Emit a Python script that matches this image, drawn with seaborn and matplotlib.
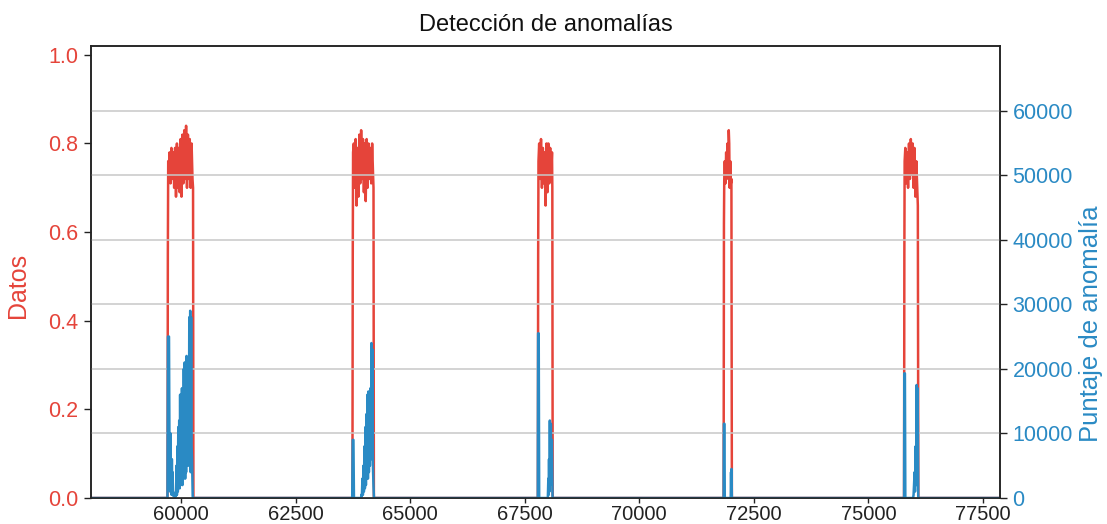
import matplotlib
matplotlib.use("Agg")
import matplotlib.pyplot as plt
import seaborn as sns
import pandas as pd

# ---------------- data ----------------
x_range = [58035, 77870]

# "Datos" series (red): bursts, zero elsewhere
datos_x = [58035,
    59705, 59712, 59720, 59730, 59750, 59770, 59790, 59810, 59830, 59850, 59870, 59890,
    59910, 59930, 59950, 59970, 59990, 60010, 60030, 60050, 60070, 60090, 60110, 60130,
    60150, 60170, 60190, 60210, 60230, 60250, 60262, 60270,
    63740, 63747, 63754, 63770, 63790, 63810, 63830, 63850, 63870, 63890, 63910, 63930,
    63950, 63970, 63990, 64010, 64030, 64050, 64070, 64090, 64110, 64130, 64150, 64170,
    64190, 64200, 64208,
    67786, 67793, 67800, 67815, 67835, 67855, 67875, 67895, 67915, 67935, 67955, 67975,
    67995, 68015, 68035, 68055, 68075, 68095, 68102, 68110,
    71840, 71847, 71854, 71865, 71880, 71895, 71910, 71925, 71940, 71952, 71962, 71972,
    71985, 71998, 72010, 72020,
    75777, 75784, 75790, 75805, 75825, 75845, 75865, 75885, 75905, 75925, 75945, 75965,
    75985, 76005, 76025, 76045, 76065, 76078, 76089,
    77870]
datos_y = [0.0,
    0.0, 0.55, 0.76, 0.74, 0.78, 0.71, 0.79, 0.72, 0.78, 0.70, 0.79, 0.68,
    0.80, 0.70, 0.79, 0.69, 0.81, 0.68, 0.82, 0.71, 0.83, 0.72, 0.84, 0.70,
    0.82, 0.72, 0.81, 0.70, 0.80, 0.72, 0.70, 0.0,
    0.0, 0.55, 0.78, 0.80, 0.70, 0.81, 0.66, 0.79, 0.68, 0.82, 0.71, 0.83,
    0.72, 0.81, 0.69, 0.80, 0.67, 0.81, 0.70, 0.80, 0.72, 0.79, 0.71, 0.80,
    0.73, 0.70, 0.0,
    0.0, 0.55, 0.76, 0.80, 0.72, 0.81, 0.70, 0.79, 0.71, 0.78, 0.66, 0.80,
    0.69, 0.80, 0.71, 0.79, 0.72, 0.78, 0.70, 0.0,
    0.0, 0.62, 0.72, 0.76, 0.71, 0.78, 0.73, 0.80, 0.72, 0.83, 0.80, 0.70,
    0.76, 0.71, 0.72, 0.0,
    0.0, 0.55, 0.76, 0.79, 0.71, 0.78, 0.70, 0.80, 0.72, 0.81, 0.73, 0.80,
    0.70, 0.79, 0.68, 0.76, 0.70, 0.66, 0.0,
    0.0]

# "Puntaje de anomalía" series (blue)
score_x = [58035,
    59704, 59715, 59737, 59748,
    59755, 59762, 59770, 59778, 59785, 59792, 59800, 59808, 59815, 59825, 59835, 59850,
    59865, 59880,
    59890, 59900, 59910, 59920, 59930, 59940, 59950, 59960, 59970, 59980, 59990, 60000,
    60010, 60020, 60030, 60040, 60050, 60060, 60070, 60080, 60090, 60100, 60110, 60120,
    60130, 60140, 60150, 60160, 60170, 60180, 60190, 60200, 60210, 60220, 60230, 60240,
    60255,
    63735, 63746, 63762, 63773, 63930,
    63936, 63946, 63958, 63968, 63980, 63990, 64002, 64012, 64024, 64034, 64046, 64056,
    64068, 64078, 64089, 64099, 64111, 64121, 64133, 64143, 64155, 64165, 64177, 64187,
    64199, 64210,
    67785, 67792, 67805, 67815, 68004, 68015, 68022, 68030, 68038, 68048, 68058, 68070,
    68080, 68092, 68107,
    71840, 71846, 71858, 71865, 71995, 72002, 72008, 72012, 72020,
    75778, 75783, 75796, 75805, 75975, 75985, 75995, 76007, 76017, 76029, 76039, 76051,
    76061, 76073, 76087,
    77870]
score_y = [0,
    0, 25000, 25000, 7000,
    9000, 1000, 10000, 2000, 6000, 500, 6000, 1000, 4000, 500, 300, 800,
    200, 600,
    300, 5000, 500, 8000, 1000, 11000, 2000, 12000, 1500, 16000, 2000, 15000,
    3000, 17000, 2000, 16000, 3000, 20000, 4000, 21000, 3000, 20000, 4000, 22000,
    5000, 21000, 6000, 21000, 5000, 28000, 6000, 29000, 4000, 28000, 8000, 6000,
    0,
    0, 9000, 9000, 0, 0,
    500, 300, 3000, 500, 5000, 1000, 8000, 1500, 11000, 2000, 13000, 3000,
    16000, 3000, 16500, 4000, 16000, 5000, 17000, 6000, 24000, 7000, 23000, 5000,
    2000, 0,
    0, 25500, 25500, 0, 0, 3000, 500, 6000, 1000, 12000, 2000, 11500,
    3000, 9000, 0,
    0, 11500, 11500, 0, 0, 4000, 500, 4500, 0,
    0, 19300, 19300, 0, 0, 500, 2000, 4000, 1000, 8000, 2000, 17500,
    4000, 17000, 0,
    0]

title = "Detección de anomalías"
left_label = "Datos"
right_label = "Puntaje de anomalía"
left_ylim = [0, 1.02]
right_ylim = [0, 70000]
x_ticks = [60000, 62500, 65000, 67500, 70000, 72500, 75000, 77500]
left_ticks = [0.0, 0.2, 0.4, 0.6, 0.8, 1.0]
right_ticks = [0, 10000, 20000, 30000, 40000, 50000, 60000]

# ---------------- plot ----------------
sns.set_theme(style="ticks")
plt.rcParams['font.family'] = ['Liberation Sans', 'DejaVu Sans']

RED = "#e5443a"
BLUE = "#2a8ac4"
TICK_FS = 15.5

df1 = pd.DataFrame({"x": datos_x, "y": datos_y})
df2 = pd.DataFrame({"x": score_x, "y": score_y})

fig = plt.figure(figsize=(11.07, 5.24), dpi=100)
ax = fig.add_axes([0.0822, 0.0496, 0.8211, 0.8626])
sns.lineplot(data=df1, x="x", y="y", ax=ax, color=RED, lw=1.8, sort=False, estimator=None)
ax.set_xlim(*x_range)
ax.set_ylim(*left_ylim)
ax.set_yticks(left_ticks)
ax.set_xticks(x_ticks)
ax.set_xticklabels([str(t) for t in x_ticks])
ax.set_yticklabels([f"{t:.1f}" for t in left_ticks])
ax.set_xlabel("")
ax.set_ylabel(left_label, color=RED, fontsize=18)
ax.yaxis.set_label_coords(-0.067, 0.47)
ax.tick_params(axis="y", labelcolor=RED, labelsize=TICK_FS, color="#222222", length=5, width=1, pad=4)
ax.tick_params(axis="x", labelsize=14.5, color="#222222", length=3.5, width=1, pad=1.5,
               labelcolor="#222222")
ax.grid(False)

ax2 = ax.twinx()
sns.lineplot(data=df2, x="x", y="y", ax=ax2, color=BLUE, lw=1.8, sort=False, estimator=None)
ax2.set_ylim(*right_ylim)
ax2.set_yticks(right_ticks)
ax2.set_yticklabels([str(t) for t in right_ticks])
ax2.set_xlim(*x_range)
ax2.set_ylabel(right_label, color=BLUE, fontsize=18.5)
ax2.yaxis.set_label_coords(1.087, 0.385)
ax2.tick_params(axis="y", labelcolor=BLUE, labelsize=TICK_FS, color="#222222", length=5, width=1, pad=4)
ax2.grid(axis="y", color="#c8c8c8", lw=1.1)
ax2.set_axisbelow(True)

for a in (ax, ax2):
    for s in a.spines.values():
        s.set_visible(True)
        s.set_color("#222222")
        s.set_linewidth(1.1)

ax.set_title(title, fontsize=17, color="#111111", pad=11)

fig.savefig("out.png", dpi=100)
